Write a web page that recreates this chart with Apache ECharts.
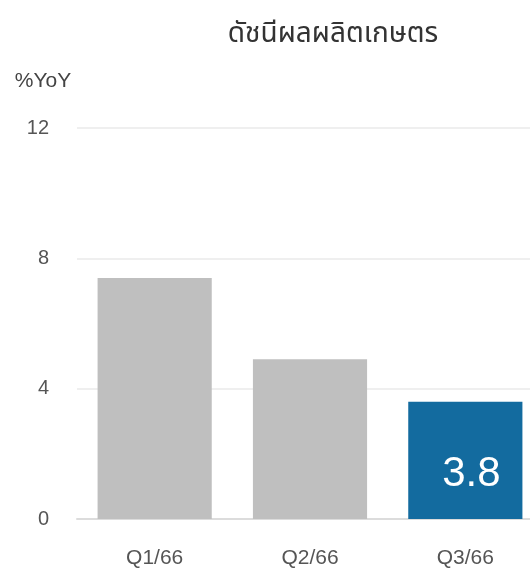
<!DOCTYPE html>
<html>
<head>
<meta charset="utf-8">
<script src="https://cdn.jsdelivr.net/npm/echarts@6/dist/echarts.min.js"></script>
<style>
  html, body { margin: 0; padding: 0; background: #fff; }
  #main { width: 530px; height: 568px; }
</style>
</head>
<body>
<div id="main"></div>
<script>
// ข้อมูล
var categories = ['Q1/66', 'Q2/66', 'Q3/66'];
var values = [7.4, 4.9, 3.6];
var barLabels = ['', '', '3.8'];
var yTicks = [0, 4, 8, 12];

var greyBar = '#bfbfbf';
var blueBar = '#136b9f';

var myChart = echarts.init(document.getElementById('main'));

var option = {
    animation: false,
    textStyle: { fontFamily: 'Helvetica, Arial, "Liberation Sans", sans-serif' },
    title: {
        text: 'ดัชนีผลผลิตเกษตร',
        left: 328,
        textAlign: 'center',
        top: 17,
        textStyle: {
            fontSize: 28, fontWeight: 'normal', color: '#333',
            fontFamily: '"Noto Sans Thai", "Noto Sans Thai UI", "Noto Sans", sans-serif'
        }
    },
    grid: { left: 77, top: 128, width: 466, height: 391, outerBoundsMode: 'none' },
    xAxis: {
        type: 'category',
        data: categories,
        axisLine: { lineStyle: { color: '#dcdcdc', width: 2 } },
        axisTick: { show: false },
        axisLabel: { color: '#555', fontSize: 21, margin: 29 }
    },
    yAxis: {
        type: 'value',
        min: yTicks[0],
        max: yTicks[yTicks.length - 1],
        interval: 4,
        name: '%YoY',
        nameLocation: 'end',
        nameGap: 0,
        nameTextStyle: { color: '#444', fontSize: 21, align: 'center', padding: [0, 0, 36, -68] },
        axisLine: { show: false },
        axisTick: { show: false },
        axisLabel: { color: '#555', fontSize: 20, margin: 28 },
        splitLine: { lineStyle: { color: '#efefef', width: 2 } }
    },
    series: [{
        type: 'bar',
        barWidth: '73.5%',
        data: values.map(function (v, i) {
            return {
                value: v,
                itemStyle: { color: barLabels[i] ? blueBar : greyBar },
                label: {
                    show: !!barLabels[i],
                    position: 'insideBottom',
                    distance: 24,
                    offset: [6, 0],
                    formatter: barLabels[i],
                    color: '#fff',
                    fontSize: 42
                }
            };
        })
    }]
};

myChart.setOption(option);
</script>
</body>
</html>
